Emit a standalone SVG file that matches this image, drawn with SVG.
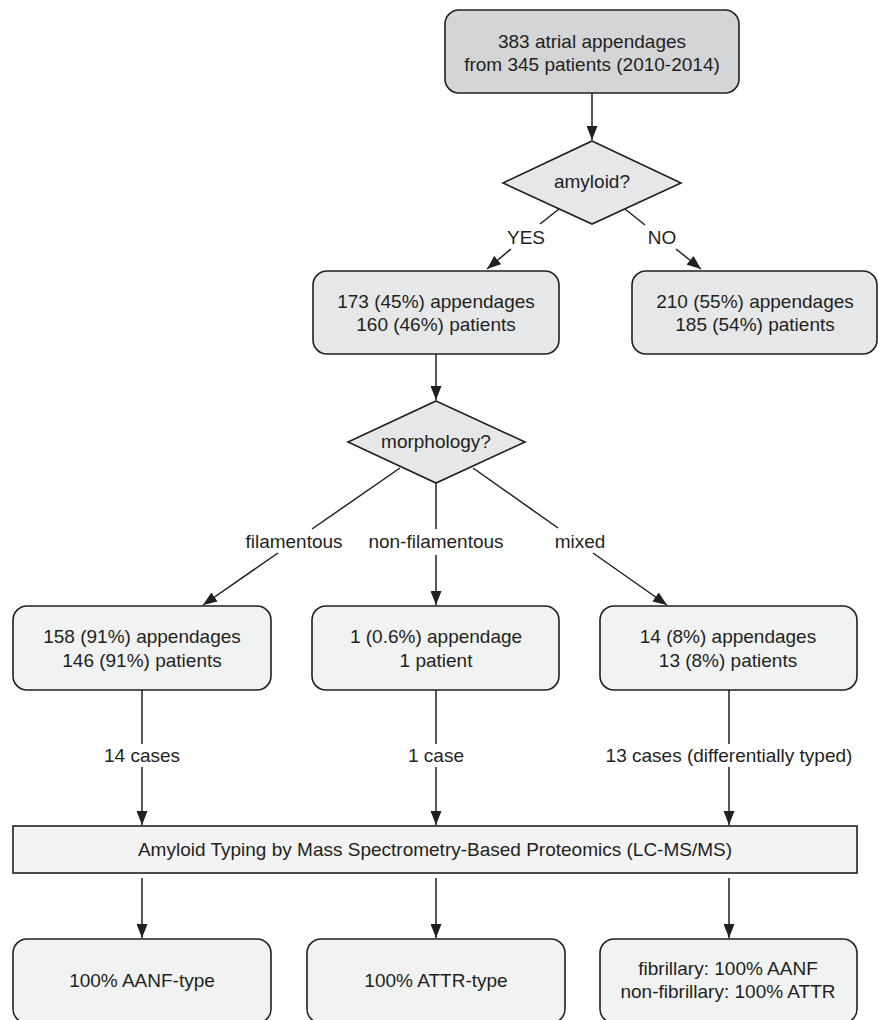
<svg xmlns="http://www.w3.org/2000/svg" width="878" height="1020" viewBox="0 0 878 1020">
<style>
text{font-family:"Liberation Sans",Arial,Helvetica,sans-serif;font-size:19px;fill:#231f20;text-anchor:middle}
.box{stroke:#231f20;stroke-width:1.6}
.c{stroke:#231f20;stroke-width:1.5;fill:none}
.a{marker-end:url(#ah)}
.f0{fill:#d4d5d7}.f1{fill:#e6e7e8}.f2{fill:#f1f2f2}
</style>
<defs>
<marker id="ah" viewBox="0 0 14 11" refX="14" refY="5.5" markerWidth="14" markerHeight="11" markerUnits="userSpaceOnUse" orient="auto">
<path d="M0,0 L14,5.5 L0,11 z" fill="#231f20"/>
</marker>
</defs>
<rect width="878" height="1020" fill="#fff"/>
<g id="connectors">
<path class="c a" d="M592,93 L592,140"/>
<path class="c" d="M559,209 L540,224"/>
<path class="c a" d="M511,249 L487,269"/>
<path class="c" d="M625,209 L645,225"/>
<path class="c a" d="M676,249 L701,269"/>
<path class="c a" d="M436,354 L436,400"/>
<path class="c" d="M400,468 L312,529"/>
<path class="c a" d="M278,553 L203,605"/>
<path class="c" d="M436,483 L436,529"/>
<path class="c a" d="M436,555 L436,605"/>
<path class="c" d="M473,468 L558,528"/>
<path class="c a" d="M593,553 L667,605"/>
<path class="c" d="M142,690 L142,744"/>
<path class="c a" d="M142,767 L142,825"/>
<path class="c" d="M436,690 L436,744"/>
<path class="c a" d="M436,767 L436,825"/>
<path class="c" d="M729,690 L729,744"/>
<path class="c a" d="M729,767 L729,825"/>
<path class="c a" d="M142,878 L142,938"/>
<path class="c a" d="M436,878 L436,938"/>
<path class="c a" d="M729,878 L729,938"/>
<text x="526" y="244">YES</text>
<text x="662" y="244">NO</text>
<text x="294" y="548">filamentous</text>
<text x="436" y="548">non-filamentous</text>
<text x="580" y="548">mixed</text>
<text x="142" y="762">14 cases</text>
<text x="436" y="762">1 case</text>
<text x="729" y="762">13 cases (differentially typed)</text>
</g>
<g id="start">
<rect class="box f0" x="445" y="10" width="294" height="83" rx="14"/>
<text x="592" y="48">383 atrial appendages</text>
<text x="592" y="71">from 345 patients (2010-2014)</text>
</g>
<g id="amyloid">
<polygon class="box f1" points="592,141 681,183 592,224 503,183"/>
<text x="592" y="188">amyloid?</text>
</g>
<g id="yes">
<rect class="box f1" x="313" y="271" width="246" height="83" rx="14"/>
<text x="436" y="308">173 (45%) appendages</text>
<text x="436" y="331">160 (46%) patients</text>
</g>
<g id="no">
<rect class="box f1" x="632" y="271" width="245" height="83" rx="14"/>
<text x="755" y="308">210 (55%) appendages</text>
<text x="755" y="331">185 (54%) patients</text>
</g>
<g id="morphology">
<polygon class="box f1" points="436,401 525,442 436,483 348,442"/>
<text x="436" y="448">morphology?</text>
</g>
<g id="filamentous">
<rect class="box f2" x="13" y="606" width="258" height="84" rx="14"/>
<text x="142" y="643">158 (91%) appendages</text>
<text x="142" y="667">146 (91%) patients</text>
</g>
<g id="nonfilamentous">
<rect class="box f2" x="312" y="606" width="247" height="84" rx="14"/>
<text x="436" y="643">1 (0.6%) appendage</text>
<text x="436" y="667">1 patient</text>
</g>
<g id="mixed">
<rect class="box f2" x="600" y="606" width="257" height="84" rx="14"/>
<text x="728" y="643">14 (8%) appendages</text>
<text x="728" y="667">13 (8%) patients</text>
</g>
<g id="typing">
<rect class="box" fill="#f3f3f3" x="13" y="826" width="844" height="47"/>
<text x="435" y="856">Amyloid Typing by Mass Spectrometry-Based Proteomics (LC-MS/MS)</text>
</g>
<g id="aanf">
<rect class="box f2" x="13" y="939" width="258" height="84" rx="14"/>
<text x="142" y="987">100% AANF-type</text>
</g>
<g id="attr">
<rect class="box f2" x="307" y="939" width="258" height="84" rx="14"/>
<text x="436" y="987">100% ATTR-type</text>
</g>
<g id="mixedresult">
<rect class="box f2" x="600" y="939" width="257" height="84" rx="14"/>
<text x="728" y="975">fibrillary: 100% AANF</text>
<text x="728" y="998">non-fibrillary: 100% ATTR</text>
</g>
</svg>
